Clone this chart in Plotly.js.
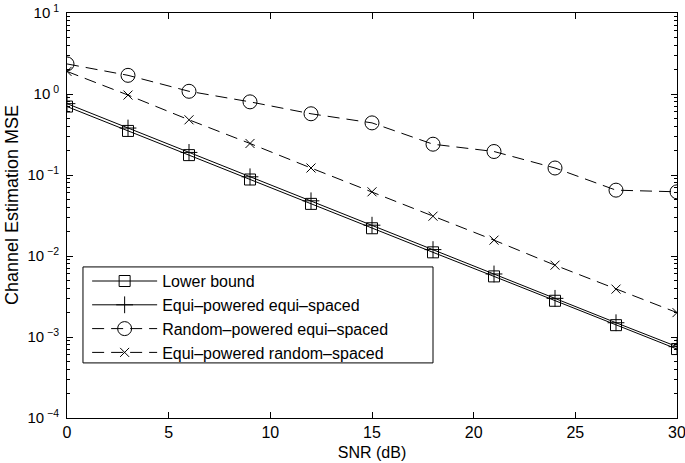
<!DOCTYPE html>
<html><head><meta charset="utf-8">
<script src="https://cdn.plot.ly/plotly-3.0.1.min.js"></script>
<style>body{margin:0;background:#fff}#c{width:685px;height:463px}</style>
</head><body><div id="c"></div>
<script>
const snr = [0, 3, 6, 9, 12, 15, 18, 21, 24, 27, 30];
const lowerBound = [0.70, 0.35, 0.176, 0.088, 0.044, 0.022, 0.0111, 0.0056, 0.0028, 0.0014, 0.00071];
const equiEqui = [0.76, 0.38, 0.19, 0.095, 0.048, 0.024, 0.012, 0.006, 0.003, 0.0015, 0.00076];
const randEqui = [2.35, 1.7, 1.08, 0.80, 0.57, 0.44, 0.24, 0.195, 0.122, 0.065, 0.062];
const equiRand = [1.9, 0.97, 0.48, 0.245, 0.122, 0.062, 0.031, 0.0157, 0.0077, 0.0039, 0.0020];
const names = ['Lower bound', 'Equi\u2013powered equi\u2013spaced', 'Random\u2013powered equi\u2013spaced', 'Equi\u2013powered random\u2013spaced'];
const xTicks = [0, 5, 10, 15, 20, 25, 30];
const yMajor = [1e-4, 1e-3, 1e-2, 1e-1, 1, 10];
const yMajorText = ['10<sup> \u22124</sup>', '10<sup> \u22123</sup>', '10<sup> \u22122</sup>', '10<sup> \u22121</sup>', '10<sup> 0</sup>', '10<sup> 1</sup>'];

const font = 'Liberation Sans, Arial, Helvetica, sans-serif';
const minorVals = [];
for (let e = -4; e < 1; e++) for (let m = 2; m <= 9; m++) minorVals.push(m * Math.pow(10, e));

const dash = '12px,7px';
const traces = [
  {x: snr, y: lowerBound, name: names[0], mode: 'lines+markers',
   line: {color: '#000', width: 1}, marker: {symbol: 'square-open', size: 11, color: '#000', line: {width: 1}}},
  {x: snr, y: equiEqui, name: names[1], mode: 'lines+markers',
   line: {color: '#000', width: 1}, marker: {symbol: 'cross-thin-open', size: 12, color: '#000', line: {width: 1}}},
  {x: snr, y: randEqui, name: names[2], mode: 'lines+markers',
   line: {color: '#000', width: 1, dash: dash}, marker: {symbol: 'circle-open', size: 14, color: '#000', line: {width: 1}}},
  {x: snr, y: equiRand, name: names[3], mode: 'lines+markers',
   line: {color: '#000', width: 1, dash: dash}, marker: {symbol: 'x-thin-open', size: 9, color: '#000', line: {width: 1}}}
];

const layout = {
  width: 685, height: 463,
  margin: {l: 67, r: 8, t: 13, b: 45},
  paper_bgcolor: '#fff', plot_bgcolor: '#fff',
  font: {family: font, color: '#000', size: 16},
  showlegend: true,
  legend: {x: 0.033, y: 0.380, xanchor: 'left', yanchor: 'top', bgcolor: 'rgba(0,0,0,0)',
    borderwidth: 0, font: {family: font, size: 16, color: '#000'},
    itemwidth: 65, tracegroupgap: 0},
  shapes: [{type: 'rect', xref: 'paper', yref: 'paper', x0: 0.0262, x1: 0.6, y0: 0.136, y1: 0.373,
    fillcolor: '#fff', line: {color: '#000', width: 1}, layer: 'above'}],
  xaxis: {range: [0, 30], tickvals: xTicks, ticks: 'inside', ticklen: 6,
    tickcolor: '#000', showgrid: false, zeroline: false, showline: true, linecolor: '#000',
    linewidth: 1, mirror: 'ticks', tickfont: {size: 16}, ticklabeloverflow: 'allow',
    title: {text: 'SNR (dB)', font: {size: 16}, standoff: 6}},
  yaxis: {type: 'log', range: [-4, 1], tickvals: yMajor, ticktext: yMajorText, ticks: 'inside',
    ticklen: 6, tickcolor: '#000', showgrid: false, zeroline: false, showline: true,
    linecolor: '#000', linewidth: 1, mirror: 'ticks', tickfont: {size: 15}, ticklabelstandoff: 4,
    ticklabeloverflow: 'allow',
    minor: {tickvals: minorVals, ticks: 'inside', ticklen: 3, tickcolor: '#000', showgrid: false}},
  annotations: [{text: 'Channel Estimation MSE', xref: 'paper', yref: 'paper', x: -0.090, y: 0.526,
    xanchor: 'center', yanchor: 'middle', textangle: -90, showarrow: false,
    font: {family: font, size: 18, color: '#000'}}]
};
Plotly.newPlot('c', traces, layout, {displayModeBar: false, staticPlot: true});
</script></body></html>
